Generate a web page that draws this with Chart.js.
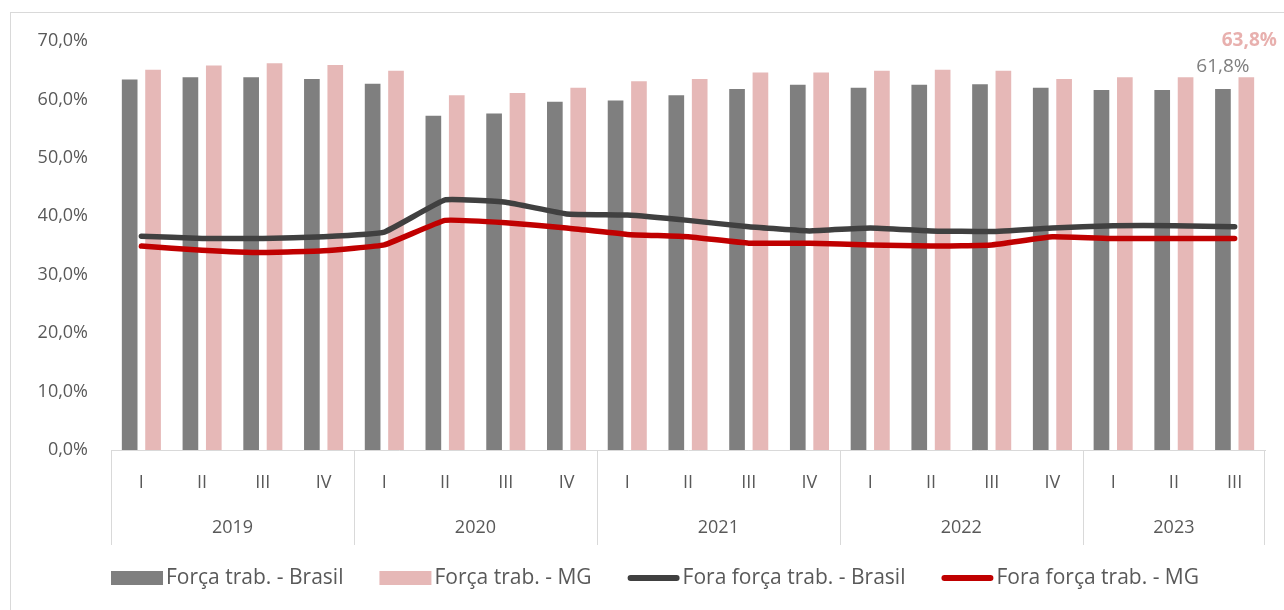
<!DOCTYPE html>
<html>
<head>
<meta charset="utf-8">
<script src="https://cdn.jsdelivr.net/npm/chart.js@4.4.1/dist/chart.umd.min.js"></script>
<style>
html,body{margin:0;padding:0;background:#fff;}
#wrap{position:relative;width:1284px;height:610px;}
</style>
</head>
<body>
<div id="wrap"><canvas id="c" width="1284" height="610"></canvas></div>
<script>
const quarters = ['I','II','III','IV','I','II','III','IV','I','II','III','IV','I','II','III','IV','I','II','III'];
const years = ['2019','2019','2019','2019','2020','2020','2020','2020','2021','2021','2021','2021','2022','2022','2022','2022','2023','2023','2023'];
const forcaBrasil = [63.4,63.8,63.8,63.5,62.7,57.2,57.6,59.6,59.8,60.7,61.8,62.5,62.0,62.5,62.6,62.0,61.6,61.6,61.8];
const forcaMG = [65.1,65.8,66.2,65.9,64.9,60.7,61.1,62.0,63.1,63.5,64.6,64.6,64.9,65.1,64.9,63.5,63.8,63.8,63.8];
const foraBrasil = [36.6,36.2,36.2,36.5,37.3,42.8,42.4,40.4,40.2,39.3,38.2,37.5,38.0,37.5,37.4,38.0,38.4,38.4,38.2];
const foraMG = [34.9,34.2,33.8,34.1,35.1,39.3,38.9,38.0,36.9,36.5,35.4,35.4,35.1,34.9,35.1,36.5,36.2,36.2,36.2];
const yTicks = [0,10,20,30,40,50,60,70];
const seriesNames = ['Força trab. - Brasil','Força trab. - MG','Fora força trab. - Brasil','Fora força trab. - MG'];

const FONT = '"Open Sans", sans-serif';
const TXT = '#595959';
const fmt = v => v.toFixed(1).replace('.', ',') + '%';

const extras = {
  id: 'extras',
  beforeDraw(chart) {
    const ctx = chart.ctx;
    ctx.save();
    ctx.strokeStyle = '#d9d9d9';
    ctx.lineWidth = 1;
    ctx.strokeRect(10.5, 12.5, 1300, 620);
    ctx.restore();
  },
  afterDraw(chart) {
    const ctx = chart.ctx;
    const x = chart.scales.x;
    const area = chart.chartArea;
    const half = (x.getPixelForValue(1) - x.getPixelForValue(0)) / 2;
    ctx.save();
    ctx.strokeStyle = '#d9d9d9';
    ctx.lineWidth = 1;
    // year groups
    const groups = [];
    years.forEach((y, i) => {
      if (!groups.length || groups[groups.length-1].y !== y) groups.push({y, s:i, e:i});
      else groups[groups.length-1].e = i;
    });
    const yBase = area.bottom;
    const yEnd = area.bottom + 95;
    groups.forEach((g, k) => {
      const left = x.getPixelForValue(g.s) - half;
      const right = x.getPixelForValue(g.e) + half;
      ctx.beginPath();
      ctx.moveTo(Math.round(left)+0.5, yBase);
      ctx.lineTo(Math.round(left)+0.5, yEnd);
      ctx.stroke();
      if (k === groups.length-1) {
        ctx.beginPath();
        ctx.moveTo(Math.round(right)-0.5, yBase);
        ctx.lineTo(Math.round(right)-0.5, yEnd);
        ctx.stroke();
      }
      ctx.fillStyle = TXT;
      ctx.font = '18px ' + FONT;
      ctx.textAlign = 'center';
      ctx.textBaseline = 'middle';
      ctx.fillText(g.y, (left + right) / 2, area.bottom + 78);
    });
    // data labels on last bars
    const last = forcaBrasil.length - 1;
    const m0 = chart.getDatasetMeta(0).data[last];
    const m1 = chart.getDatasetMeta(1).data[last];
    ctx.textAlign = 'center';
    ctx.textBaseline = 'middle';
    ctx.font = '19px ' + FONT;
    ctx.fillStyle = '#7f7f7f';
    ctx.fillText(fmt(forcaBrasil[last]), m0.x, m0.y - 22);
    ctx.font = 'bold 19px ' + FONT;
    ctx.fillStyle = '#e8b0ae';
    ctx.fillText(fmt(forcaMG[last]), m1.x + 3, m1.y - 37);

    // legend
    const ds = chart.data.datasets;
    const legY = 578;
    let lx = area.left;
    ctx.font = '21px ' + FONT;
    ctx.textAlign = 'left';
    ctx.textBaseline = 'middle';
    ds.forEach((d) => {
      if (d.type === 'bar') {
        ctx.fillStyle = d.backgroundColor;
        ctx.fillRect(lx, legY - 7, 52, 14);
      } else {
        ctx.strokeStyle = d.borderColor;
        ctx.lineWidth = 6;
        ctx.lineCap = 'round';
        ctx.beginPath();
        ctx.moveTo(lx + 3, legY);
        ctx.lineTo(lx + 49, legY);
        ctx.stroke();
      }
      lx += 55;
      ctx.fillStyle = TXT;
      ctx.fillText(d.label, lx, legY);
      lx += ctx.measureText(d.label).width + 36;
    });
    ctx.restore();
  }
};

new Chart(document.getElementById('c'), {
  data: {
    labels: quarters,
    datasets: [
      {type:'bar', label: seriesNames[0], data: forcaBrasil, backgroundColor:'#7f7f7f', categoryPercentage:0.77, barPercentage:0.67, order:2},
      {type:'bar', label: seriesNames[1], data: forcaMG, backgroundColor:'#e6b8b7', categoryPercentage:0.77, barPercentage:0.67, order:3},
      {type:'line', label: seriesNames[2], data: foraBrasil, borderColor:'#404040', backgroundColor:'#404040', borderWidth:5.5, pointRadius:0, tension:0.1, borderJoinStyle:'round', borderCapStyle:'round', order:1},
      {type:'line', label: seriesNames[3], data: foraMG, borderColor:'#c00000', backgroundColor:'#c00000', borderWidth:5.5, pointRadius:0, tension:0.1, borderJoinStyle:'round', borderCapStyle:'round', order:0}
    ]
  },
  options: {
    responsive: false,
    animation: false,
    layout: { padding: { left: 38, right: 19, top: 41, bottom: 50 } },
    plugins: {
      tooltip: { enabled: false },
      legend: { display: false }
    },
    scales: {
      x: {
        type: 'category',
        grid: { display: false, drawTicks: false },
        border: { display: true, color: '#d9d9d9', width: 1 },
        ticks: { color: TXT, font: { family: FONT, size: 18 }, padding: 22, maxRotation: 0, autoSkip: false },
        afterFit(scale) { scale.height = 110; scale.paddingLeft = 0; scale.paddingRight = 0; }
      },
      y: {
        min: 0, max: 70,
        afterBuildTicks(scale) { scale.ticks = yTicks.map(v => ({ value: v })); },
        grid: { display: false, drawTicks: false },
        border: { display: false },
        ticks: { color: TXT, font: { family: FONT, size: 18 }, padding: 23, callback: v => fmt(v) },
        afterFit(scale) { scale.width = 73; scale.paddingTop = 0; scale.paddingBottom = 0; }
      }
    }
  },
  plugins: [extras]
});
</script>
</body>
</html>
